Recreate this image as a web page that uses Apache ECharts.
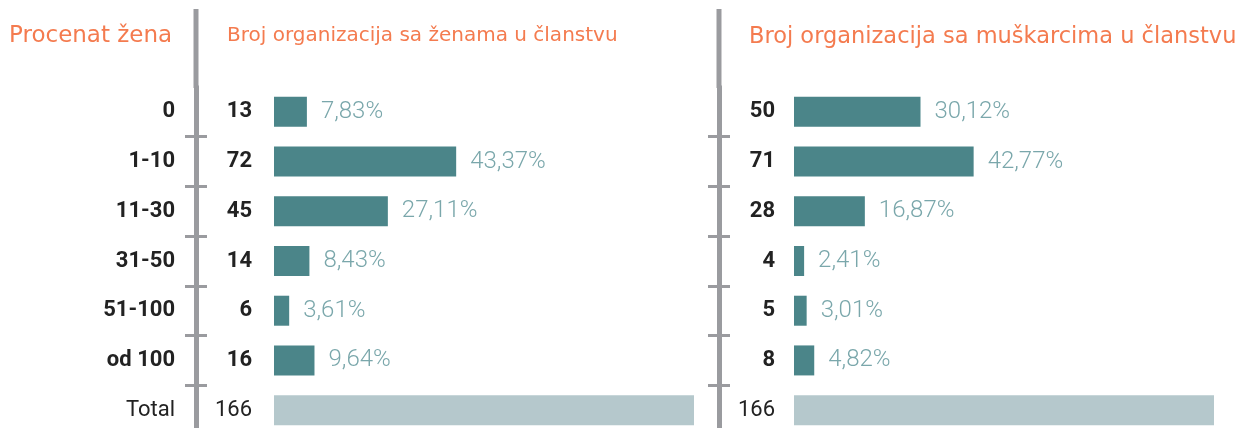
<!DOCTYPE html>
<html>
<head>
<meta charset="utf-8">
<script src="https://cdn.jsdelivr.net/npm/echarts@6/dist/echarts.min.js"></script>
<style>
  html, body { margin: 0; padding: 0; background: #fff; }
  #chart { width: 1243px; height: 428px; }
</style>
</head>
<body>
<div id="chart"></div>
<script>
const categories = ['0', '1-10', '11-30', '31-50', '51-100', 'od 100', 'Total'];
const womenCounts = [13, 72, 45, 14, 6, 16, 166];
const womenPct = ['7,83', '43,37', '27,11', '8,43', '3,61', '9,64', ''];
const menCounts = [50, 71, 28, 4, 5, 8, 166];
const menPct = ['30,12', '42,77', '16,87', '2,41', '3,01', '4,82', ''];

const ORANGE = '#f47b4f';
const BAR = '#4b8589';
const TOTAL_BAR = '#b5c8cc';
const PCT = '#7aa7ab';
const AXIS = '#9a9b9f';
const INK = '#222';
const FONT = 'Roboto';
const HEAD_FONT = 'DejaVu Sans';

const chart = echarts.init(document.getElementById('chart'));

const catLabel = {
  fontFamily: FONT, fontSize: 22, color: INK,
  rich: {
    b: { fontFamily: FONT, fontSize: 22, fontWeight: 'bold', color: INK },
    n: { fontFamily: FONT, fontSize: 22, fontWeight: 'normal', color: INK }
  }
};

const barData = (counts) => counts.map((v, i) =>
  categories[i] === 'Total'
    ? { value: v, itemStyle: { color: TOTAL_BAR }, label: { show: false } }
    : v);

// three y axes per panel: counts, axis line with category names, boundary ticks
const panelAxes = (grid, counts, lineOffset, tickOffset, margin, showNames) => [
  {
    type: 'category', gridIndex: grid, position: 'left', data: categories, inverse: true,
    axisLine: { show: false }, axisTick: { show: false },
    axisLabel: Object.assign({}, catLabel, {
      margin: margin,
      formatter: (v, i) => v === 'Total' ? '{n|' + counts[i] + '}' : '{b|' + counts[i] + '}'
    })
  },
  {
    type: 'category', gridIndex: grid, position: 'left', data: categories, inverse: true, offset: lineOffset,
    axisLine: { show: true, lineStyle: { color: AXIS, width: 5 } },
    axisTick: { show: false },
    axisLabel: Object.assign({}, catLabel, {
      show: showNames, margin: 21,
      formatter: (v) => v === 'Total' ? '{n|' + v + '}' : '{b|' + v + '}'
    })
  },
  {
    type: 'category', gridIndex: grid, position: 'left', data: categories, inverse: true, offset: tickOffset,
    axisLine: { show: false },
    axisTick: {
      show: true, length: 22, lineStyle: { color: AXIS, width: 3 },
      interval: (idx) => idx !== 0
    },
    axisLabel: { show: false }
  }
];

const barSeries = (axisIdx, counts, pct) => ({
  type: 'bar', xAxisIndex: axisIdx, yAxisIndex: axisIdx * 3,
  data: barData(counts), barWidth: 30,
  itemStyle: { color: BAR },
  label: {
    show: true, position: 'right', distance: 14,
    fontFamily: FONT, fontSize: 24, fontWeight: 300, color: PCT,
    formatter: (p) => pct[p.dataIndex] + '%'
  }
});

const headStyle = (size) => ({ fontFamily: HEAD_FONT, fontSize: size, fontWeight: 'normal', color: ORANGE });

chart.setOption({
  animation: false,
  title: [
    { text: 'Procenat žena', left: 9, top: 25, padding: 0, textStyle: headStyle(23) },
    { text: 'Broj organizacija sa ženama u članstvu', left: 227, top: 26, padding: 0, textStyle: headStyle(20) },
    { text: 'Broj organizacija sa muškarcima u članstvu', left: 749, top: 26, padding: 0, textStyle: headStyle(22.5) }
  ],
  graphic: [
    { type: 'line', shape: { x1: 196, y1: 9, x2: 196, y2: 88 }, style: { stroke: AXIS, lineWidth: 5 } },
    { type: 'line', shape: { x1: 719, y1: 9, x2: 719, y2: 88 }, style: { stroke: AXIS, lineWidth: 5 } }
  ],
  grid: [
    { left: 274, top: 87, width: 420, height: 348, outerBoundsMode: 'none' },
    { left: 794, top: 87, width: 420, height: 348, outerBoundsMode: 'none' }
  ],
  xAxis: [
    { type: 'value', gridIndex: 0, min: 0, max: 166, show: false },
    { type: 'value', gridIndex: 1, min: 0, max: 166, show: false }
  ],
  yAxis: [
    ...panelAxes(0, womenCounts, 78, 67, 22, true),
    ...panelAxes(1, menCounts, 75, 64, 19, false)
  ],
  series: [
    barSeries(0, womenCounts, womenPct),
    barSeries(1, menCounts, menPct)
  ]
});
</script>
</body>
</html>
